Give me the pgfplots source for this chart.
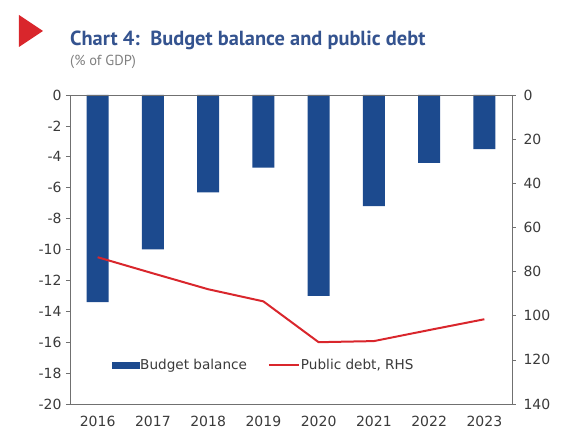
\documentclass[border=0pt]{standalone}
\usepackage{pgfplots}
\pgfplotsset{compat=1.18}
\usepackage{fontspec}
\setmainfont{DejaVu Sans}
\newfontfamily\titlefont{PT Sans}
\definecolor{barblue}{HTML}{1C4A8E}
\definecolor{linered}{HTML}{D9262C}
\definecolor{titleblue}{HTML}{34538F}
\definecolor{axgray}{HTML}{707070}
\definecolor{txtgray}{HTML}{3A3A3A}
\begin{document}
\begin{tikzpicture}[x=1pt,y=1pt]
\path (-70,-37) rectangle (512,404);
\fill[linered] (-51,389) -- (-27,373) -- (-51,357) -- cycle;
\node[anchor=west,inner sep=0,text=titleblue,font=\titlefont\bfseries\fontsize{20.4}{24}\selectfont] at (0,364) {Chart 4:\ \ Budget balance and public debt};
\node[anchor=west,inner sep=0,text=gray,font=\titlefont\fontsize{14.5}{17}\selectfont] at (0,342) {(\% of GDP)};
\begin{axis}[
  at={(0,0)}, anchor=south west,
  width=442pt, height=309pt, scale only axis,
  xmin=-0.5, xmax=7.5, ymin=-20, ymax=0,
  xtick={0,...,7}, xticklabels={2016,2017,2018,2019,2020,2021,2022,2023},
  ytick={-20,-18,...,0},
  axis line style={axgray, line width=0.8pt},
  x tick style={draw=none},
  y tick style={axgray, line width=0.6pt},
  major tick length=4pt,
  tick align=outside,
  axis y line*=left,
  tick label style={text=txtgray, font=\fontsize{14}{16}\selectfont},
  /pgf/number format/assume math mode=true,
  xticklabel style={yshift=-5pt},
  yticklabel style={xshift=-1pt},
  tick pos=left,
]
\addplot[ybar, bar width=22pt, fill=barblue, draw=none] coordinates {
(0,-13.4) (1,-10.0) (2,-6.3) (3,-4.7) (4,-13.0) (5,-7.2) (6,-4.4) (7,-3.5)};
\end{axis}
\begin{axis}[
  at={(0,0)}, anchor=south west,
  width=442pt, height=309pt, scale only axis,
  xmin=-0.5, xmax=7.5, ymin=0, ymax=140, y dir=reverse,
  ytick={0,20,...,140},
  axis y line*=right,
  axis x line=none,
  axis line style={axgray, line width=0.8pt},
  y tick style={axgray, line width=0.6pt},
  major tick length=4pt,
  tick align=outside,
  tick label style={text=txtgray, font=\fontsize{14}{16}\selectfont},
  /pgf/number format/assume math mode=true,
  yticklabel style={xshift=4pt},
  legend style={draw=none, fill=none, at={(0.437,0.127)}, anchor=center,
    legend columns=2, font=\fontsize{13.6}{15}\selectfont, text=txtgray,
    /tikz/every odd column/.append style={column sep=0pt},
    /tikz/every even column/.append style={column sep=20pt},
    legend cell align=left},
]
\draw[axgray, line width=0.8pt] (axis cs:-0.5,0) -- (axis cs:7.5,0);
\draw[axgray, line width=0.8pt] (axis cs:-0.5,140) -- (axis cs:7.5,140);
\addlegendimage{legend image code/.code={\fill[barblue] (0pt,-3pt) rectangle (27pt,3pt);}}
\addlegendentry[inner xsep=1pt]{Budget balance}
\addplot[linered, line width=2pt, legend image code/.code={\draw[linered, line width=2pt] (0pt,0pt) -- (30pt,0pt);}] coordinates {
(0,73.5) (1,80.8) (2,88) (3,93.5) (4,112) (5,111.5) (6,106.5) (7,101.6)};
\addlegendentry[inner xsep=1pt]{Public debt, RHS}
\end{axis}
\end{tikzpicture}
\end{document}
